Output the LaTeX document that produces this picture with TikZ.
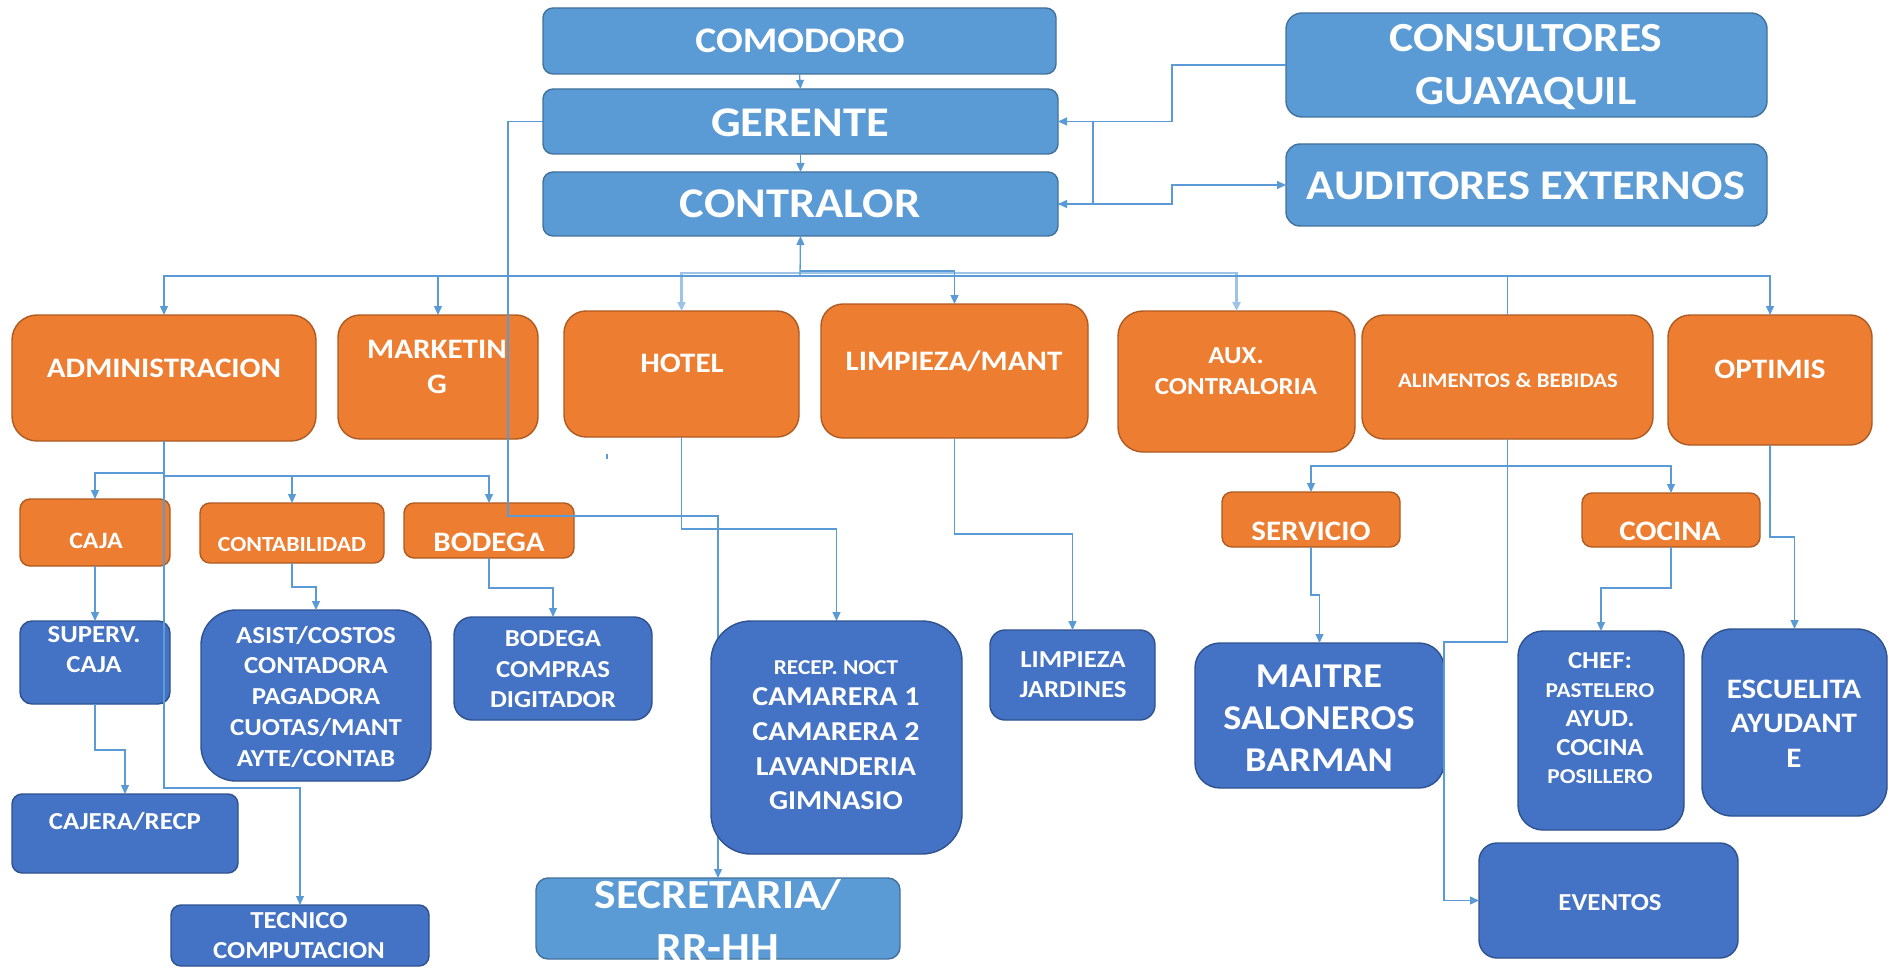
\documentclass[tikz,border=0pt]{standalone}
\usepackage{fontspec}
\setmainfont{Carlito}[FakeStretch=1.1]
\usetikzlibrary{arrows.meta}
\definecolor{lbF}{HTML}{5B9BD5}
\definecolor{lbD}{HTML}{41719C}
\definecolor{obF}{HTML}{ED7D31}
\definecolor{obD}{HTML}{AE5A21}
\definecolor{dbF}{HTML}{4472C4}
\definecolor{dbD}{HTML}{2F528F}
\definecolor{lnC}{HTML}{5B9BD5}
\definecolor{lnL}{HTML}{9DC3E6}
\newcommand{\fsz}[2]{\fontsize{#1}{#2}\selectfont\bfseries}
\newcommand{\bx}[7]{\node[#2, rounded corners=#7pt, minimum width={(#5-#3)*1pt}, minimum height={(#6-#4)*1pt}] (#1) at ({(#3+#5)/2},{(#4+#6)/2}) {};}
\tikzset{
  lb/.style={draw=lbD, fill=lbF, line width=1.4pt, inner sep=0pt, outer sep=0pt},
  ob/.style={draw=obD, fill=obF, line width=1.4pt, inner sep=0pt, outer sep=0pt},
  db/.style={draw=dbD, fill=dbF, line width=1.4pt, inner sep=0pt, outer sep=0pt},
  ln/.style={draw=lnC, line width=1.3pt},
  lnl/.style={draw=lnL, line width=2.2pt},
  arr/.style={-{Triangle[length=9pt,width=8pt]}},
  one/.style={text=white, inner sep=0pt, anchor=base},
  multi/.style={text=white, inner sep=0pt, anchor=center, align=center},
}
\begin{document}
\begin{tikzpicture}[x=1pt,y=-1pt]
\fill[white] (0,0) rectangle (1892,968);
\useasboundingbox (0,0) rectangle (1892,968);
% boxes
\bx{comodoro}{lb}{543}{8}{1056}{74}{10}
\bx{gerente}{lb}{543}{89}{1058}{154}{10}
\bx{contralor}{lb}{543}{172}{1058}{236}{10}
\bx{consultores}{lb}{1286}{13}{1767}{117}{16}
\bx{auditores}{lb}{1286}{144}{1767}{226}{14}
\bx{admin}{ob}{12}{315}{316}{441}{25}
\bx{marketing}{ob}{338}{315}{538}{439}{22}
\bx{hotel}{ob}{564}{311}{799}{437}{22}
\bx{limpieza}{ob}{821}{304}{1088}{438}{22}
\bx{aux}{ob}{1118}{311}{1355}{452}{25}
\bx{alimentos}{ob}{1362}{315}{1653}{439}{22}
\bx{optimis}{ob}{1668}{315}{1872}{445}{22}
\bx{caja}{ob}{20}{499}{170}{566}{10}
\bx{contab}{ob}{200}{503}{384}{563}{10}
\bx{bodega}{ob}{404}{503}{574}{558}{10}
\bx{servicio}{ob}{1222}{492}{1400}{547}{10}
\bx{cocina}{ob}{1582}{493}{1760}{547}{10}
\bx{superv}{db}{20}{621}{170}{704}{12}
\bx{asist}{db}{201}{610}{431}{781}{35}
\bx{compras}{db}{454}{617}{652}{720}{18}
\bx{cajera}{db}{12}{794}{238}{873}{10}
\bx{tecnico}{db}{171}{905}{429}{966}{10}
\bx{secretaria}{lb}{536}{878}{900}{959}{12}
\bx{jardines}{db}{990}{630}{1155}{720}{15}
\bx{maitre}{db}{1195}{643}{1444}{788}{25}
\bx{chef}{db}{1518}{631}{1684}{830}{25}
\bx{escuelita}{db}{1702}{629}{1887}{816}{30}
\bx{eventos}{db}{1479}{843}{1738}{958}{18}
% connectors
\coordinate (busA) at (800,276);
\coordinate (busB) at (800,273);
\coordinate (busC) at (800,271);
\draw[ln,arr] (comodoro.south) -- (gerente.north);
\draw[ln,arr] (gerente.south) -- (contralor.north);
\draw[lnl,arr] (busB) -| (hotel.north);
\draw[lnl,arr] (busB) -| (aux.north);
\draw[ln,arr] (busA) -- (contralor.south);
\draw[ln,arr] (busA) -| (admin.north);
\draw[ln,arr] (busA) -| (marketing.north);
\draw[ln,arr] (busC) -| (limpieza.north);
\draw[ln] (busA) -| (alimentos.north);
\draw[ln,arr] (busA) -| (optimis.north);
\coordinate (k1) at (1172,122);
\coordinate (k2) at (1093,122);
\coordinate (k3) at (1172,204);
\draw[ln,arr] (consultores.west) -| (k1) |- (gerente.east);
\draw[ln,arr] (k2) |- (contralor.east);
\draw[ln,arr] (contralor.east) -| (k3) |- (auditores.west);
\coordinate (g1) at (508,516);
\draw[ln,arr] (gerente.west) -| (g1) -| (secretaria.north);
\coordinate (a1) at (164,473);
\coordinate (a2) at (164,476);
\coordinate (a3) at (164,788);
\draw[ln,arr] (admin.south) -- (a1) -| (caja.north);
\draw[ln,arr] (a2) -| (contab.north);
\draw[ln,arr] (a2) -| (bodega.north);
\draw[ln,arr] (admin.south) -- (a3) -| (tecnico.north);
\draw[ln,arr] (caja.south) -- (superv.north);
\coordinate (s1) at (95,750);
\draw[ln,arr] (superv.south) -- (s1) -| (cajera.north);
\coordinate (c1) at (292,587);
\draw[ln,arr] (contab.south) -- (c1) -| (asist.north);
\coordinate (b1) at (489,588);
\draw[ln,arr] (bodega.south) -- (b1) -| (compras.north);
\coordinate (h1) at (681.5,529);
\coordinate (h2) at (836.5,621);
\draw[ln,arr] (hotel.south) -- (h1) -| (h2);
\coordinate (l1) at (954.5,534);
\draw[ln,arr] (limpieza.south) -- (l1) -| (jardines.north);
\coordinate (f1) at (1507.5,466);
\coordinate (f2) at (1507.5,642);
\coordinate (f3) at (1444,642);
\draw[ln,arr] (alimentos.south) -- (f1) -| (servicio.north);
\draw[ln,arr] (f1) -| (cocina.north);
\draw[ln,arr] (f1) -- (f2) -- (f3) |- (eventos.west);
\coordinate (sv1) at (1311,595);
\draw[ln,arr] (servicio.south) -- (sv1) -| (maitre.north);
\coordinate (co1) at (1671,588);
\draw[ln,arr] (cocina.south) -- (co1) -| (chef.north);
\coordinate (o1) at (1770,537);
\draw[ln,arr] (optimis.south) -- (o1) -| (escuelita.north);
\draw[ln] (607,454) -- (607,459);
% recep box over the secretaria connector
\bx{recep}{db}{711}{621}{962}{854}{40}
% texts
\node[one, font=\fsz{36}{45}] (comodoro-t) at (800,53) {COMODORO};
\node[one, font=\fsz{42.3}{54}] (gerente-t) at (800,137) {GERENTE};
\node[one, font=\fsz{42.3}{54}] (contralor-t) at (800,218) {CONTRALOR};
\node[multi, font=\fsz{41.4}{52.5}] (consultores-t) at (1526,67) {CONSULTORES\\GUAYAQUIL};
\node[one, font=\fsz{42.3}{54}] (auditores-t) at (1526,200) {AUDITORES EXTERNOS};
\node[one, font=\fsz{28.2}{36}] (admin-t) at (164,377) {ADMINISTRACION};
\node[multi, font=\fsz{28.2}{35}] (marketing-t) at (437,366.5) {MARKETIN\\G};
\node[one, font=\fsz{28.2}{36}] (hotel-t) at (682,372) {HOTEL};
\node[one, font=\fsz{28.2}{36}] (limpieza-t) at (954,370) {LIMPIEZA/MANT};
\node[multi, font=\fsz{24.4}{31}] (aux-t) at (1236,371.5) {AUX.\\CONTRALORIA};
\node[one, font=\fsz{20.7}{26}] (alimentos-t) at (1508,387) {ALIMENTOS \& BEBIDAS};
\node[one, font=\fsz{28.2}{36}] (optimis-t) at (1770,378) {OPTIMIS};
\node[one, font=\fsz{23.5}{30}] (caja-t) at (96,548) {CAJA};
\node[one, font=\fsz{21.6}{28}] (contab-t) at (292,551) {CONTABILIDAD};
\node[one, font=\fsz{28.2}{36}] (bodega-t) at (489,551) {BODEGA};
\node[one, font=\fsz{28.2}{36}] (servicio-t) at (1311,540) {SERVICIO};
\node[one, font=\fsz{28.2}{36}] (cocina-t) at (1670,540) {COCINA};
\node[multi, font=\fsz{24.4}{30}] (superv-t) at (94,650) {SUPERV.\\CAJA};
\node[multi, font=\fsz{24.4}{30.75}] (asist-t) at (316,696.5) {ASIST/COSTOS\\CONTADORA\\PAGADORA\\CUOTAS/MANT\\AYTE/CONTAB};
\node[multi, font=\fsz{24.4}{30.5}] (compras-t) at (553,669.5) {BODEGA\\COMPRAS\\DIGITADOR};
\node[multi, font=\fsz{27.3}{34.7}] (recep-t) at (836,735.5) {{\fontsize{21.2}{34.7}\selectfont RECEP. NOCT}\\[-3.7pt]CAMARERA 1\\CAMARERA 2\\LAVANDERIA\\GIMNASIO};
\node[one, font=\fsz{24.4}{30}] (cajera-t) at (125,829) {CAJERA/RECP};
\node[multi, font=\fsz{24.4}{30}] (tecnico-t) at (299,936) {TECNICO\\COMPUTACION};
\node[multi, font=\fsz{41.4}{53}] (secretaria-t) at (718,920) {SECRETARIA/\\RR-HH};
\node[multi, font=\fsz{24.4}{30}] (jardines-t) at (1073,675) {LIMPIEZA\\JARDINES};
\node[multi, font=\fsz{34.8}{42}] (maitre-t) at (1319,718) {MAITRE\\SALONEROS\\BARMAN};
\node[multi, font=\fsz{24.4}{28.75}] (chef-t) at (1600,718.5) {CHEF:\\{\fontsize{21.2}{28.75}\selectfont PASTELERO}\\AYUD.\\COCINA\\{\fontsize{21.2}{28.75}\selectfont POSILLERO}};
\node[multi, font=\fsz{28.2}{34.5}] (escuelita-t) at (1794,723.5) {ESCUELITA\\AYUDANT\\E};
\node[one, font=\fsz{24.4}{30}] (eventos-t) at (1610,910) {EVENTOS};
\end{tikzpicture}
\end{document}
